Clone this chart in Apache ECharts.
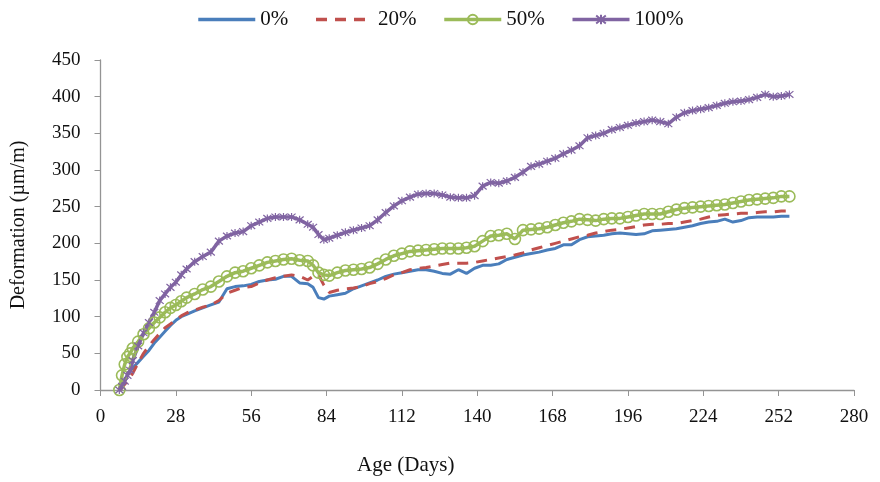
<!DOCTYPE html>
<html>
<head>
<meta charset="utf-8">
<script src="https://cdn.jsdelivr.net/npm/echarts@6/dist/echarts.min.js"></script>
<style>html,body{margin:0;padding:0;background:#fff}#c{width:880px;height:482px}</style>
</head>
<body>
<div id="c"></div>
<script>
var days = [7,8,9,10,11,12,14,16,18,20,22,24,26,28,30,32,35,38,41,44,47,50,53,56,59,62,65,68,71,74,77,79,81,83,85,88,91,94,97,100,103,106,109,112,115,118,121,124,127,130,133,136,139,142,145,148,151,154,157,160,163,166,169,172,175,178,181,184,187,190,193,196,199,202,205,208,211,214,217,220,223,226,229,232,235,238,241,244,247,250,253,256];
var s0 = [0,5,14,20,26,30,38,46,54,64,72,80,88,95,100,103,108,112,116,120,138,141,142,144,148,150,151,155,155,146,145,140,126,124,128,130,132,138,142,146,150,155,158,160,162,164,164,162,159,158,164,159,166,170,170,172,178,181,184,186,188,191,193,198,198,205,209,210,211,213,214,213,212,213,217,218,219,220,222,224,227,229,230,233,229,231,235,236,236,236,237,237];
var s20 = [0,3,8,12,17,23,37,50,60,69,77,85,90,96,101,105,109,113,116,122,132,136,140,141,146,150,153,155,157,155,150,155,157,143,133,136,138,139,141,145,148,152,157,160,164,166,167,169,171,173,173,173,174,176,178,180,182,184,187,191,194,197,200,203,206,209,211,214,216,218,219,221,223,225,226,226,227,227,229,231,233,236,238,239,240,241,241,242,243,243,244,244];
var s50 = [0,20,35,45,50,57,66,76,84,92,99,106,112,116,121,126,131,137,141,148,155,160,162,166,170,174,176,178,179,177,176,170,160,157,156,160,163,164,165,167,172,178,183,186,189,190,191,192,193,193,193,194,196,203,210,211,213,206,218,219,220,222,225,228,230,233,232,231,233,234,234,236,238,240,240,240,243,246,248,249,250,251,252,253,255,257,259,260,261,262,264,264];
var s100 = [0,5,12,20,27,40,60,78,92,106,122,131,140,147,157,165,175,182,188,203,210,214,216,224,229,234,236,236,236,232,226,222,212,205,207,211,215,218,221,224,232,242,251,258,263,267,268,268,266,263,262,262,265,278,283,282,285,290,297,305,308,312,316,322,327,333,344,347,350,355,358,361,364,366,368,366,363,372,378,381,383,385,388,391,393,394,396,399,403,400,401,403];
var xTicks = [0,28,56,84,112,140,168,196,224,252,280];
var yTicks = [0,50,100,150,200,250,300,350,400,450];
var names = ['0%','20%','50%','100%'];

function pairs(v){ return days.map(function(d,i){ return [d, v[i]]; }); }
var serif = '"Liberation Serif","DejaVu Serif",serif';
var cross = 'path://M0,0L10,10M10,0L0,10M5,-1L5,11';

var chart = echarts.init(document.getElementById('c'));
chart.setOption({
  animation: false,
  backgroundColor: '#fff',
  legend: {
    top: 4, left: 'center', itemWidth: 57, itemHeight: 12, itemGap: 26,
    lineStyle: { width: 3.5 },
    textStyle: { fontFamily: serif, fontSize: 21, color: '#111' },
    data: [
      { name: names[0], itemStyle: { opacity: 0 } },
      { name: names[1], itemStyle: { opacity: 0 } },
      { name: names[2] },
      { name: names[3] }
    ]
  },
  grid: { left: 100.5, right: 26, top: 60, bottom: 92, containLabel: false },
  xAxis: {
    type: 'value', min: 0, max: 280, interval: 28,
    axisLine: { show: true, lineStyle: { color: '#949494', width: 1.3 } },
    axisTick: { show: true, length: 6, lineStyle: { color: '#949494' } },
    axisLabel: { margin: 18, fontFamily: serif, fontSize: 19, color: '#111',
      formatter: function(v){ return xTicks.indexOf(v) >= 0 ? String(v) : ''; } },
    splitLine: { show: false }
  },
  yAxis: {
    type: 'value', min: 0, max: 450, interval: 50,
    axisLine: { show: true, lineStyle: { color: '#949494', width: 1.3 } },
    axisTick: { show: true, length: 6, lineStyle: { color: '#949494' } },
    axisLabel: { margin: 20, fontFamily: serif, fontSize: 19, color: '#111',
      formatter: function(v){ return yTicks.indexOf(v) >= 0 ? String(v) : ''; } },
    splitLine: { show: false },
    name: 'Deformation (µm/m)', nameLocation: 'middle', nameGap: 72, nameRotate: 90,
    nameTextStyle: { fontFamily: serif, fontSize: 20, color: '#111' }
  },
  graphic: [{
    type: 'text', left: 357, top: 455,
    style: { text: 'Age (Days)', font: '21px ' + serif, fill: '#111' }
  }],
  series: [
    { name: names[0], type: 'line', data: pairs(s0), showSymbol: false, symbol: 'none',
      lineStyle: { color: '#4a7ebb', width: 3 }, itemStyle: { color: '#4a7ebb' } },
    { name: names[1], type: 'line', data: pairs(s20), showSymbol: false, symbol: 'none',
      lineStyle: { color: '#c0504d', width: 3, type: [11, 8] }, itemStyle: { color: '#c0504d' } },
    { name: names[2], type: 'line', data: pairs(s50), symbol: 'circle', symbolSize: 11,
      lineStyle: { color: '#9bbb59', width: 3.5 },
      itemStyle: { color: 'rgba(255,255,255,0)', borderColor: '#9bbb59', borderWidth: 1.6 } },
    { name: names[3], type: 'line', data: pairs(s100), symbol: cross, symbolSize: 8,
      lineStyle: { color: '#8064a2', width: 3.5 },
      itemStyle: { color: '#8064a2', borderColor: '#8064a2', borderWidth: 1.2 } }
  ]
});
</script>
</body>
</html>
